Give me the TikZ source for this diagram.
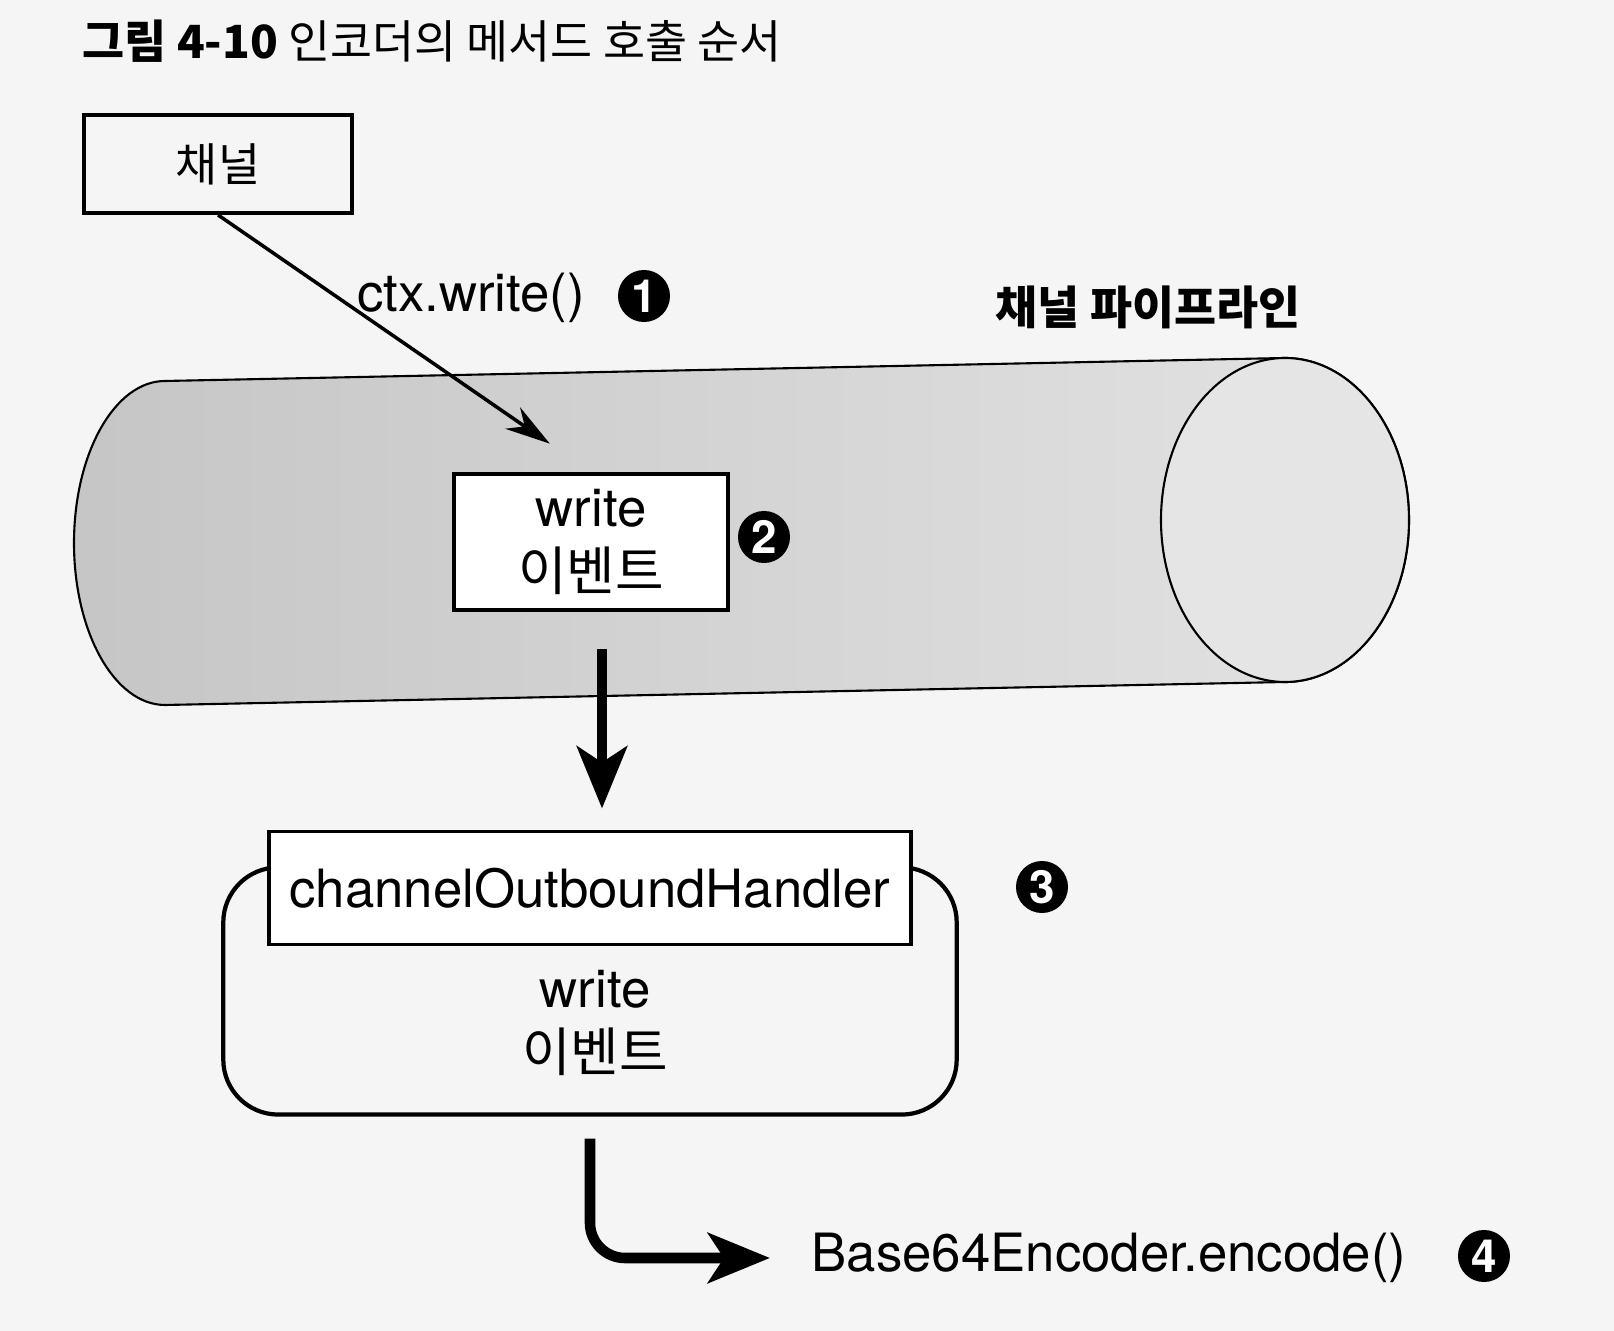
\documentclass[tikz,border=0pt]{standalone}
\usepackage{fontspec}
\setmainfont{TeX Gyre Heros}
\newfontfamily\kr{Noto Sans CJK KR}
\usepackage{tikz}
\usetikzlibrary{arrows.meta}
\usetikzlibrary{positioning}
\tikzset{
  box/.style={draw, line width=1.1pt, inner sep=0pt},
  num/.style={circle, fill=black, text=white, inner sep=0pt, minimum size=.52cm,
    font=\bfseries\fontsize{13}{13}\selectfont},
  fat/.style={line width=3pt, -{Stealth[length=6.2mm, width=5mm, inset=1.6mm]}},
  lbl/.style={font=\fontsize{15}{18}\selectfont, align=center}
}

\begin{document}
\begin{tikzpicture}[x=0.01cm, y=-0.01cm]
  \fill[gray!8] (0,0) rectangle (1614,1331);
  \useasboundingbox (0,0) rectangle (1614,1331);

  \node[anchor=west, font=\kr\fontsize{13}{15}\selectfont] (title) at (70,41)
    {\textbf{그림 4-10} 인코더의 메서드 호출 순서};

  % the pipeline as a lying cylinder
  \draw[line width=.6pt, left color=gray!45, right color=gray!22]
    (165,381) -- (1285,358)
    arc[start angle=-90, end angle=90, x radius=124, y radius=162]
    -- (165,705)
    arc[start angle=90, end angle=270, x radius=91, y radius=162] -- cycle;
  \draw[line width=.6pt, fill=gray!20] (1285,520) ellipse [x radius=124, y radius=162];
  \node[font=\kr\bfseries\fontsize{13}{15}\selectfont] (pipe) at (1148,307) {채널 파이프라인};

  \node[box, minimum width=2.67cm, minimum height=.98cm, font=\kr\fontsize{13}{15}\selectfont]
    (chan) at (218,164) {채널};
  \node[box, lbl, fill=white, minimum width=2.73cm, minimum height=1.36cm]
    (wr) at (591,542) {write\\{\kr 이벤트}};
  \node[num] (n2) at (764,537) {2};

  \draw[-{Stealth[length=4.5mm, width=2.6mm]}, line width=1pt, shorten >=.5cm]
    (chan.south) -- (wr.north);
  \node[lbl] (ctx) at (471,298) {ctx.write()};
  \node[num] (n1) at (644,296) {1};

  % handler
  \node[draw, line width=1.2pt, rounded corners=.55cm, fill=gray!8,
    minimum width=7.33cm, minimum height=2.47cm] (hdl) at (590,991) {};
  \node[box, lbl, fill=white, minimum width=6.41cm, minimum height=1.13cm]
    (hdr) at (590,888) {channelOutboundHandler};
  \node[lbl] (hwr) at (595,1023) {write\\{\kr 이벤트}};
  \node[num] (n3) at (1042,887) {3};

  \draw[fat, shorten <=.37cm, shorten >=.21cm]
    ([xshift=.11cm]wr.south) -- ([xshift=.11cm]wr.south |- hdr.north);

  \node[lbl, anchor=west, inner sep=0pt] (enc) at (811,1258) {Base64Encoder.encode()};
  \node[num] (n4) at (1484,1256) {4};

  \draw[fat, rounded corners=.35cm, shorten <=.22cm, shorten >=.41cm]
    (hdl.south) |- (enc.west);
\end{tikzpicture}
\end{document}
